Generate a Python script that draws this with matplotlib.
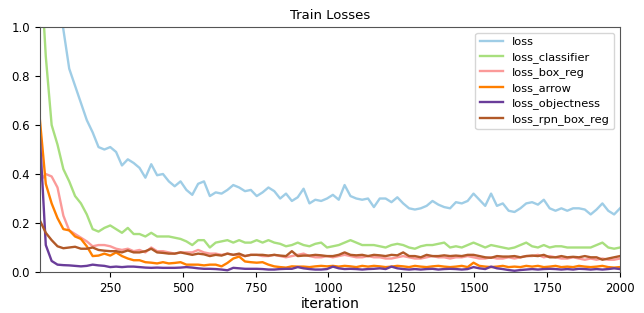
import numpy as np
import matplotlib
matplotlib.use("Agg")
import matplotlib.pyplot as plt

# iterations (logged every ~20 steps)
iterations = np.linspace(10, 2000, 100)

loss = [2.6, 1.9, 1.45, 1.15, 0.99, 0.83, 0.76, 0.69, 0.62, 0.57,
        0.51, 0.50, 0.51, 0.49, 0.435, 0.46, 0.445, 0.425, 0.385, 0.44,
        0.395, 0.40, 0.37, 0.35, 0.37, 0.335, 0.315, 0.36, 0.37, 0.31,
        0.325, 0.32, 0.335, 0.355, 0.345, 0.33, 0.335, 0.31, 0.325, 0.345,
        0.33, 0.30, 0.32, 0.29, 0.305, 0.34, 0.28, 0.295, 0.29, 0.30,
        0.315, 0.295, 0.355, 0.31, 0.30, 0.295, 0.30, 0.265, 0.30, 0.30,
        0.285, 0.305, 0.28, 0.26, 0.255, 0.26, 0.27, 0.29, 0.275, 0.265,
        0.26, 0.285, 0.28, 0.29, 0.32, 0.295, 0.27, 0.32, 0.27, 0.28,
        0.25, 0.245, 0.26, 0.28, 0.285, 0.275, 0.295, 0.26, 0.25, 0.26,
        0.25, 0.26, 0.26, 0.255, 0.235, 0.255, 0.28, 0.25, 0.235, 0.26]

loss_classifier = [1.3, 0.88, 0.6, 0.52, 0.42, 0.37, 0.31, 0.28, 0.235, 0.175,
                   0.165, 0.18, 0.19, 0.175, 0.16, 0.18, 0.155, 0.155, 0.145, 0.16,
                   0.145, 0.145, 0.145, 0.14, 0.135, 0.125, 0.11, 0.13, 0.13, 0.10,
                   0.12, 0.125, 0.13, 0.12, 0.13, 0.12, 0.12, 0.13, 0.12, 0.13,
                   0.12, 0.115, 0.105, 0.11, 0.12, 0.11, 0.105, 0.115, 0.12, 0.10,
                   0.105, 0.11, 0.12, 0.13, 0.12, 0.11, 0.11, 0.11, 0.105, 0.10,
                   0.11, 0.115, 0.11, 0.10, 0.095, 0.105, 0.11, 0.11, 0.115, 0.12,
                   0.10, 0.105, 0.10, 0.11, 0.12, 0.11, 0.10, 0.11, 0.105, 0.10,
                   0.095, 0.10, 0.11, 0.12, 0.105, 0.10, 0.11, 0.10, 0.105, 0.105,
                   0.10, 0.10, 0.10, 0.10, 0.10, 0.11, 0.12, 0.10, 0.095, 0.10]

loss_box_reg = [0.37, 0.40, 0.39, 0.345, 0.23, 0.17, 0.155, 0.14, 0.125, 0.105,
                0.11, 0.11, 0.105, 0.095, 0.09, 0.095, 0.085, 0.09, 0.08, 0.10,
                0.085, 0.085, 0.08, 0.075, 0.08, 0.08, 0.08, 0.09, 0.08, 0.075,
                0.075, 0.07, 0.075, 0.07, 0.07, 0.065, 0.07, 0.07, 0.065, 0.065,
                0.07, 0.065, 0.06, 0.065, 0.07, 0.075, 0.065, 0.06, 0.06, 0.065,
                0.06, 0.065, 0.07, 0.065, 0.06, 0.06, 0.065, 0.06, 0.06, 0.055,
                0.055, 0.06, 0.065, 0.06, 0.055, 0.055, 0.06, 0.065, 0.06, 0.06,
                0.055, 0.06, 0.06, 0.065, 0.06, 0.055, 0.055, 0.06, 0.055, 0.055,
                0.06, 0.055, 0.06, 0.065, 0.065, 0.07, 0.06, 0.065, 0.06, 0.055,
                0.055, 0.06, 0.055, 0.05, 0.055, 0.05, 0.055, 0.05, 0.05, 0.055]

loss_arrow = [0.62, 0.36, 0.28, 0.22, 0.175, 0.17, 0.145, 0.135, 0.105, 0.065,
              0.067, 0.075, 0.067, 0.08, 0.065, 0.055, 0.048, 0.048, 0.04, 0.038,
              0.035, 0.04, 0.035, 0.037, 0.04, 0.03, 0.03, 0.03, 0.027, 0.03,
              0.03, 0.023, 0.037, 0.055, 0.063, 0.043, 0.04, 0.038, 0.04, 0.03,
              0.023, 0.02, 0.018, 0.023, 0.022, 0.022, 0.02, 0.023, 0.025, 0.023,
              0.025, 0.022, 0.025, 0.023, 0.02, 0.025, 0.022, 0.025, 0.023, 0.02,
              0.022, 0.025, 0.023, 0.02, 0.025, 0.022, 0.02, 0.023, 0.025, 0.022,
              0.02, 0.022, 0.025, 0.02, 0.038, 0.025, 0.022, 0.02, 0.022, 0.025,
              0.02, 0.022, 0.02, 0.025, 0.022, 0.025, 0.02, 0.022, 0.025, 0.02,
              0.022, 0.02, 0.025, 0.022, 0.02, 0.022, 0.025, 0.02, 0.018, 0.02]

loss_objectness = [0.55, 0.11, 0.045, 0.03, 0.028, 0.027, 0.025, 0.023, 0.025, 0.03,
                   0.027, 0.025, 0.02, 0.022, 0.02, 0.022, 0.022, 0.02, 0.018, 0.017,
                   0.018, 0.017, 0.017, 0.017, 0.018, 0.02, 0.018, 0.015, 0.013, 0.013,
                   0.012, 0.01, 0.007, 0.017, 0.015, 0.013, 0.013, 0.013, 0.012, 0.01,
                   0.01, 0.012, 0.013, 0.013, 0.02, 0.015, 0.012, 0.01, 0.01, 0.012,
                   0.022, 0.015, 0.012, 0.013, 0.012, 0.01, 0.012, 0.013, 0.015, 0.012,
                   0.022, 0.015, 0.012, 0.01, 0.012, 0.01, 0.012, 0.013, 0.01, 0.012,
                   0.013, 0.012, 0.01, 0.012, 0.02, 0.015, 0.012, 0.022, 0.015, 0.012,
                   0.008, 0.005, 0.008, 0.01, 0.012, 0.01, 0.012, 0.013, 0.012, 0.01,
                   0.012, 0.01, 0.013, 0.012, 0.01, 0.012, 0.01, 0.012, 0.015, 0.012]

loss_rpn_box_reg = [0.21, 0.16, 0.13, 0.105, 0.097, 0.10, 0.103, 0.095, 0.095, 0.10,
                    0.09, 0.087, 0.085, 0.085, 0.08, 0.088, 0.08, 0.08, 0.085, 0.095,
                    0.08, 0.078, 0.075, 0.075, 0.08, 0.075, 0.07, 0.075, 0.072, 0.065,
                    0.07, 0.067, 0.075, 0.07, 0.075, 0.065, 0.07, 0.07, 0.07, 0.067,
                    0.07, 0.067, 0.065, 0.085, 0.065, 0.067, 0.067, 0.07, 0.068, 0.065,
                    0.065, 0.07, 0.08, 0.07, 0.068, 0.07, 0.065, 0.07, 0.068, 0.065,
                    0.07, 0.068, 0.08, 0.065, 0.065, 0.06, 0.07, 0.065, 0.065, 0.068,
                    0.065, 0.067, 0.065, 0.07, 0.07, 0.065, 0.06, 0.058, 0.065, 0.063,
                    0.063, 0.065, 0.06, 0.065, 0.067, 0.065, 0.07, 0.06, 0.06, 0.065,
                    0.06, 0.062, 0.06, 0.065, 0.06, 0.06, 0.05, 0.055, 0.06, 0.065]

series = [("loss", loss), ("loss_classifier", loss_classifier),
          ("loss_box_reg", loss_box_reg), ("loss_arrow", loss_arrow),
          ("loss_objectness", loss_objectness), ("loss_rpn_box_reg", loss_rpn_box_reg)]

# Paired colormap picks
colors = ["#9fcde6", "#a8df7e", "#fb9a99", "#ff7f00", "#6a3d9a", "#b15928"]

fig = plt.figure(figsize=(6.44, 3.13), dpi=100)
ax = fig.add_axes([0.062, 0.131, 0.9007, 0.7826])

for (name, vals), c in zip(series, colors):
    ax.plot(iterations, vals, color=c, lw=1.7, label=name)

ax.set_xlim(10, 2000)
ax.set_ylim(0, 1.0)
ax.set_xticks([250, 500, 750, 1000, 1250, 1500, 1750, 2000])
ax.set_yticks([0.0, 0.2, 0.4, 0.6, 0.8, 1.0])
ax.tick_params(labelsize=8.5)
ax.set_title("Train Losses", fontsize=9.5)
ax.set_xlabel("iteration", fontsize=10, labelpad=2)
for s in ax.spines.values():
    s.set_color("#555555")

ax.legend(loc="upper right", fontsize=8.2, handlelength=2.0, labelspacing=0.4)

fig.savefig("out.png", dpi=100)
